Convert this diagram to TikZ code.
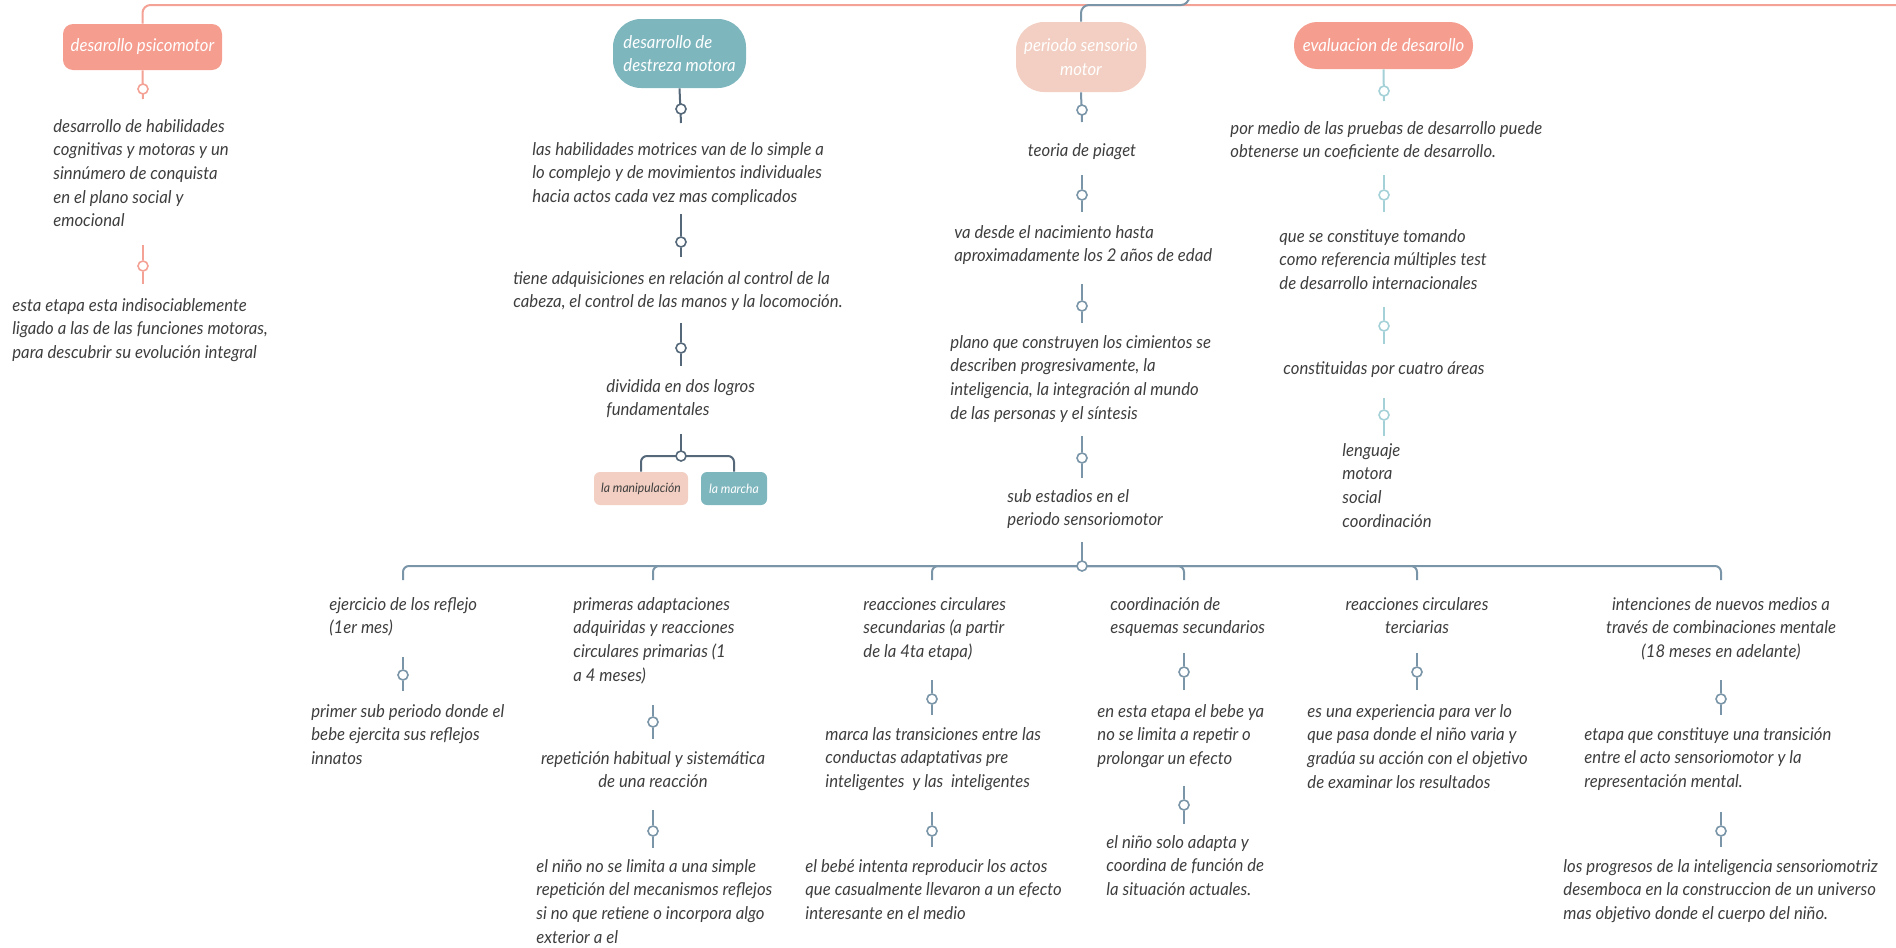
\documentclass[tikz,border=0pt]{standalone}
\usepackage{fontspec}
\setmainfont{Lato}[FakeStretch=0.95]
\definecolor{salmon}{HTML}{F59D8F}
\definecolor{teal}{HTML}{7EB6BE}
\definecolor{peach}{HTML}{F2CFC2}
\definecolor{pinkc}{HTML}{F4A196}
\definecolor{darkc}{HTML}{55687A}
\definecolor{slatec}{HTML}{7A95A7}
\definecolor{evalc}{HTML}{A4D0D7}
\definecolor{ink}{HTML}{3E3E3E}
\newcommand\tx{\fontsize{8.8}{11.8}\selectfont\itshape}
\newcommand\bx{\fontsize{8.8}{11.8}\selectfont\itshape}
\tikzset{
  txt/.style={anchor=north west, inner sep=0pt, align=left, font=\tx, text=ink},
  ctxt/.style={anchor=north, inner sep=0pt, align=center, font=\tx, text=ink},
  kdot/.style={circle, draw=#1, fill=white, inner sep=0pt, minimum size=5pt, line width=0.8pt},
  conn/.style={line width=1pt},
  topbox/.style={rectangle, inner sep=2pt, font=\bx, text=white},
}
\begin{document}
\begin{tikzpicture}[x=0.5pt,y=-0.5pt]
\useasboundingbox (0,0) rectangle (1896,948);
% top boxes
\node[topbox, fill=salmon, rounded corners=5pt, minimum width=79.5pt, minimum height=23pt] (psy) at (142.5,47) {desarollo psicomotor};
\node[topbox, fill=teal, rounded corners=14pt, minimum width=66.5pt, minimum height=34.5pt, align=left] (dest) at (679.5,53.5) {desarrollo de\\destreza motora};
\node[topbox, fill=peach, rounded corners=14pt, minimum width=65pt, minimum height=35pt, align=center] (per) at (1081,57) {periodo sensorio\\motor};
\node[topbox, fill=salmon, rounded corners=11.5pt, minimum width=89.5pt, minimum height=23.5pt] (eva) at (1383.5,45.5) {evaluacion de desarollo};

% top lines
\coordinate (topR) at (1896,5);
\coordinate (bluec) at (1189,5);
\coordinate (blueT) at (1189,0);
\draw[conn, pinkc, rounded corners=4pt] (psy.north) |- (topR);
\draw[conn, slatec, rounded corners=4pt] (per.north) |- (bluec) -- (blueT);

% psicomotor branch
\draw[conn, pinkc] (psy.south) -- (143,99);
\node[kdot=pinkc] (kp1) at (143,89) {};
\node[txt] (p1) at (53,119) {desarrollo de habilidades\\cognitivas y motoras y un\\sinnúmero de conquista\\en el plano social y\\emocional};
\node[kdot=pinkc] (kp2) at (143,266) {};
\draw[conn, pinkc] (kp2.north) -- ++(0,-15);
\draw[conn, pinkc] (kp2.south) -- ++(0,12);
\node[txt] (p2) at (12,298) {esta etapa esta indisociablemente\\ligado a las de las funciones motoras,\\para descubrir su evolución integral};

% destreza branch
\draw[conn, darkc] (dest.south) -- (681,123);
\node[kdot=darkc] (kd1) at (681,109) {};
\node[txt] (d1) at (532,142) {las habilidades motrices van de lo simple a\\lo complejo y de movimientos individuales\\hacia actos cada vez mas complicados};
\node[kdot=darkc] (kd2) at (681,242) {};
\draw[conn, darkc] (kd2.north) -- ++(0,-22);
\draw[conn, darkc] (kd2.south) -- ++(0,9);
\node[txt] (d2) at (513,271) {tiene adquisiciones en relación al control de la\\cabeza, el control de las manos y la locomoción.};
\node[kdot=darkc] (kd3) at (681,348) {};
\draw[conn, darkc] (kd3.north) -- ++(0,-19);
\draw[conn, darkc] (kd3.south) -- ++(0,12);
\node[txt] (d3) at (606,379) {dividida en dos logros\\fundamentales};
\node[rectangle, fill=peach, rounded corners=3pt, minimum width=47pt, minimum height=16.5pt, inner sep=1pt, font=\fontsize{6.4}{8}\selectfont\itshape, text=ink] (manip) at (641,488.5) {la manipulación};
\node[rectangle, fill=teal, rounded corners=3pt, minimum width=33pt, minimum height=16.5pt, inner sep=1pt, font=\fontsize{6.4}{8}\selectfont\itshape, text=white] (march) at (734,488.5) {la marcha};
\coordinate (kd4c) at (681,456);
\draw[conn, darkc] (kd4c) -- ++(0,-22);
\draw[conn, darkc, rounded corners=3pt] (kd4c) -| (manip.north);
\draw[conn, darkc, rounded corners=3pt] (kd4c) -| (march.north);
\node[kdot=darkc] (kd4) at (kd4c) {};

% periodo branch
\draw[conn, slatec] (per.south) -- (1082,122);
\node[kdot=slatec] (kq1) at (1082,110) {};
\node[ctxt] (q1) at (1082,143) {teoria de piaget};
\node[kdot=slatec] (kq2) at (1082,195) {};
\draw[conn, slatec] (kq2.north) -- ++(0,-14);
\draw[conn, slatec] (kq2.south) -- ++(0,11);
\node[txt] (q2) at (954,225) {va desde el nacimiento hasta\\aproximadamente los 2 años de edad};
\node[kdot=slatec] (kq3) at (1082,306) {};
\draw[conn, slatec] (kq3.north) -- ++(0,-16);
\draw[conn, slatec] (kq3.south) -- ++(0,11);
\node[txt] (q3) at (950,335) {plano que construyen los cimientos se\\describen progresivamente, la\\inteligencia, la integración al mundo\\de las personas y el síntesis};
\node[kdot=slatec] (kq4) at (1082,458) {};
\draw[conn, slatec] (kq4.north) -- ++(0,-16);
\draw[conn, slatec] (kq4.south) -- ++(0,14);
\node[txt] (q4) at (1007,489) {sub estadios en el\\periodo sensoriomotor};
\coordinate (kq5c) at (1082,566);
\draw[conn, slatec] (kq5c) -- ++(0,-24);

% bottom branch tops
\coordinate (c1) at (403,580);
\coordinate (c2) at (653,580);
\coordinate (c3) at (932,580);
\coordinate (c4) at (1184,580);
\coordinate (c5) at (1417,580);
\coordinate (c6) at (1721,580);
\foreach \c in {c1,c2,c3,c4,c5,c6}
  \draw[conn, slatec, rounded corners=3pt] (kq5c) -| (\c);
\node[kdot=slatec] (kq5) at (kq5c) {};

% column 1
\node[txt] (b1a) at (329,597) {ejercicio de los reflejo\\(1er mes)};
\node[kdot=slatec] (kb1) at (403,675) {};
\draw[conn, slatec] (kb1.north) -- ++(0,-12);
\draw[conn, slatec] (kb1.south) -- ++(0,10);
\node[txt] (b1b) at (311,704) {primer sub periodo donde el\\bebe ejercita sus reflejos\\innatos};

% column 2
\node[txt] (b2a) at (573,597) {primeras adaptaciones\\adquiridas y reacciones\\circulares primarias (1\\a 4 meses)};
\node[kdot=slatec] (kb2) at (653,722) {};
\draw[conn, slatec] (kb2.north) -- ++(0,-11);
\draw[conn, slatec] (kb2.south) -- ++(0,11);
\node[ctxt] (b2b) at (653,751) {repetición habitual y sistemática\\de una reacción};
\node[kdot=slatec] (kb3) at (653,831) {};
\draw[conn, slatec] (kb3.north) -- ++(0,-15);
\draw[conn, slatec] (kb3.south) -- ++(0,11);
\node[txt] (b2c) at (536,859) {el niño no se limita a una simple\\repetición del mecanismos reflejos\\si no que retiene o incorpora algo\\exterior a el};

% column 3
\node[txt] (b3a) at (863,597) {reacciones circulares\\secundarias (a partir\\de la 4ta etapa)};
\node[kdot=slatec] (kb4) at (932,699) {};
\draw[conn, slatec] (kb4.north) -- ++(0,-13);
\draw[conn, slatec] (kb4.south) -- ++(0,10);
\node[txt] (b3b) at (825,727) {marca las transiciones entre las\\conductas adaptativas pre\\inteligentes\ \ y las\ \ inteligentes};
\node[kdot=slatec] (kb5) at (932,831) {};
\draw[conn, slatec] (kb5.north) -- ++(0,-13);
\draw[conn, slatec] (kb5.south) -- ++(0,10);
\node[txt] (b3c) at (805,859) {el bebé intenta reproducir los actos\\que casualmente llevaron a un efecto\\interesante en el medio};

% column 4
\node[txt] (b4a) at (1110,597) {coordinación de\\esquemas secundarios};
\node[kdot=slatec] (kb6) at (1184,672) {};
\draw[conn, slatec] (kb6.north) -- ++(0,-13);
\draw[conn, slatec] (kb6.south) -- ++(0,12);
\node[txt] (b4b) at (1097,704) {en esta etapa el bebe ya\\no se limita a repetir o\\prolongar un efecto};
\node[kdot=slatec] (kb7) at (1184,805) {};
\draw[conn, slatec] (kb7.north) -- ++(0,-13);
\draw[conn, slatec] (kb7.south) -- ++(0,13);
\node[txt] (b4c) at (1106,835) {el niño solo adapta y\\coordina de función de\\la situación actuales.};

% column 5
\node[ctxt] (b5a) at (1417,597) {reacciones circulares\\terciarias};
\node[kdot=slatec] (kb8) at (1417,672) {};
\draw[conn, slatec] (kb8.north) -- ++(0,-13);
\draw[conn, slatec] (kb8.south) -- ++(0,12);
\node[txt] (b5b) at (1307,704) {es una experiencia para ver lo\\que pasa donde el niño varia y\\gradúa su acción con el objetivo\\de examinar los resultados};

% column 6
\node[ctxt] (b6a) at (1721,597) {intenciones de nuevos medios a\\través de combinaciones mentale\\(18 meses en adelante)};
\node[kdot=slatec] (kb9) at (1721,699) {};
\draw[conn, slatec] (kb9.north) -- ++(0,-13);
\draw[conn, slatec] (kb9.south) -- ++(0,10);
\node[txt] (b6b) at (1584,727) {etapa que constituye una transición\\entre el acto sensoriomotor y la\\representación mental.};
\node[kdot=slatec] (kb10) at (1721,831) {};
\draw[conn, slatec] (kb10.north) -- ++(0,-13);
\draw[conn, slatec] (kb10.south) -- ++(0,10);
\node[txt] (b6c) at (1563,859) {los progresos de la inteligencia sensoriomotriz\\desemboca en la construccion de un universo\\mas objetivo donde el cuerpo del niño.};

% evaluacion branch
\draw[conn, evalc] (eva.south) -- (1384,101);
\node[kdot=evalc] (ke1) at (1384,91) {};
\node[txt] (e1) at (1230,121) {por medio de las pruebas de desarrollo puede\\obtenerse un coeficiente de desarrollo.};
\node[kdot=evalc] (ke2) at (1384,195) {};
\draw[conn, evalc] (ke2.north) -- ++(0,-14);
\draw[conn, evalc] (ke2.south) -- ++(0,11);
\node[txt] (e2) at (1279,229) {que se constituye tomando\\como referencia múltiples test\\de desarrollo internacionales};
\node[kdot=evalc] (ke3) at (1384,326) {};
\draw[conn, evalc] (ke3.north) -- ++(0,-13);
\draw[conn, evalc] (ke3.south) -- ++(0,12);
\node[ctxt] (e3) at (1384,361) {constituidas por cuatro áreas};
\node[kdot=evalc] (ke4) at (1384,415) {};
\draw[conn, evalc] (ke4.north) -- ++(0,-11);
\draw[conn, evalc] (ke4.south) -- ++(0,15);
\node[txt] (e4) at (1342,443) {lenguaje\\motora\\social\\coordinación};
\end{tikzpicture}
\end{document}
